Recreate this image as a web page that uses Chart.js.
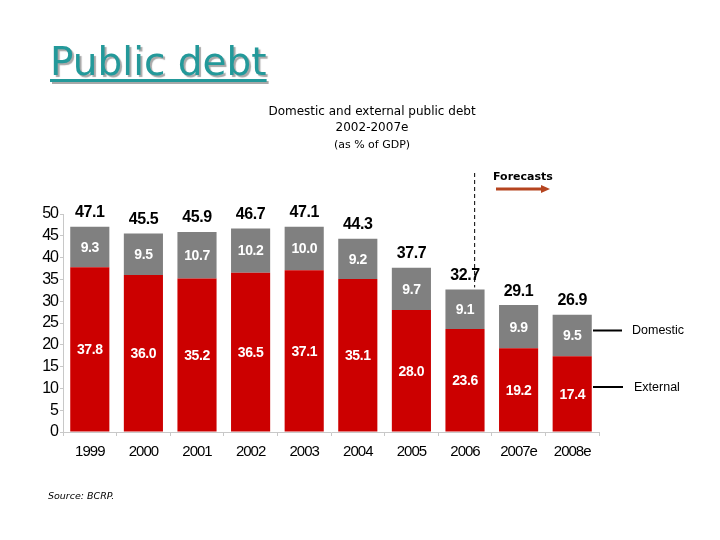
<!DOCTYPE html>
<html>
<head>
<meta charset="utf-8">
<script src="https://cdn.jsdelivr.net/npm/chart.js@4/dist/chart.umd.min.js"></script>
<style>
  html, body { margin:0; padding:0; background:#fff; }
  #wrap { position:relative; width:720px; height:540px; overflow:hidden; }
  #heading { position:absolute; left:50px; top:42px; font-family:"DejaVu Sans", sans-serif; font-size:39px; line-height:39px;
    color:#23999a; text-decoration:underline; text-decoration-thickness:3px; text-underline-offset:4px;
    text-shadow:2px 2px 1px #a8a8a8; white-space:nowrap; }
  canvas { position:absolute; left:0; top:0; }
</style>
</head>
<body>
<div id="wrap">
  <canvas id="c" width="720" height="540"></canvas>
  <div id="heading">Public debt</div>
</div>
<script>
const categories = ["1999","2000","2001","2002","2003","2004","2005","2006","2007e","2008e"];
const external = [37.8, 36.0, 35.2, 36.5, 37.1, 35.1, 28.0, 23.6, 19.2, 17.4];
const domestic = [9.3, 9.5, 10.7, 10.2, 10.0, 9.2, 9.7, 9.1, 9.9, 9.5];
const totals = [47.1, 45.5, 45.9, 46.7, 47.1, 44.3, 37.7, 32.7, 29.1, 26.9];
const yTicks = [0, 5, 10, 15, 20, 25, 30, 35, 40, 45, 50];
const titleLines = ["Domestic and external public debt", "2002-2007e", "(as % of GDP)"];
const seriesNames = ["External", "Domestic"];
const forecastLabel = "Forecasts";
const sourceText = "Source: BCRP.";

const RED = "#cc0000", GREY = "#808080";

const decor = {
  id: "decor",
  beforeDraw(chart) {
    chart.ctx.letterSpacing = "-1px";
  },
  afterDatasetsDraw(chart) {
    const ctx = chart.ctx;
    const mExt = chart.getDatasetMeta(0), mDom = chart.getDatasetMeta(1);
    ctx.save();
    ctx.textAlign = "center"; ctx.textBaseline = "middle";
    ctx.letterSpacing = "-0.4px";
    ctx.fillStyle = "#fff";
    ctx.font = "bold 14px 'Liberation Sans', Arial, sans-serif";
    mExt.data.forEach((b, i) => {
      ctx.fillText(external[i].toFixed(1), b.x, (b.y + b.base) / 2 + 1);
    });
    mDom.data.forEach((b, i) => {
      ctx.fillText(domestic[i].toFixed(1), b.x, (b.y + b.base) / 2 + 1);
    });
    ctx.fillStyle = "#000";
    ctx.font = "bold 16px 'Liberation Sans', Arial, sans-serif";
    mDom.data.forEach((b, i) => {
      ctx.fillText(totals[i].toFixed(1), b.x, chart.scales.y.getPixelForValue(totals[i]) - 14);
    });
    ctx.restore();
  },
  afterDraw(chart) {
    const ctx = chart.ctx;
    const x = chart.scales.x, y = chart.scales.y;
    ctx.save();
    ctx.letterSpacing = "0px";
    ctx.textAlign = "center"; ctx.textBaseline = "middle";
    ctx.fillStyle = "#000";
    ctx.font = "12px 'DejaVu Sans', sans-serif";
    ctx.fillText(titleLines[0], 372, 112);
    ctx.fillText(titleLines[1], 372, 128);
    ctx.font = "11px 'DejaVu Sans', sans-serif";
    ctx.fillText(titleLines[2], 372, 145);

    // forecast divider
    const step = x.getPixelForValue(1) - x.getPixelForValue(0);
    const dx = x.getPixelForValue(7) + step * 0.18;
    ctx.strokeStyle = "#000"; ctx.lineWidth = 1; ctx.setLineDash([4, 3]);
    ctx.beginPath(); ctx.moveTo(dx, 173); ctx.lineTo(dx, y.getPixelForValue(totals[7]) - 2); ctx.stroke();
    ctx.setLineDash([]);

    ctx.font = "bold 11px 'DejaVu Sans', sans-serif";
    ctx.textAlign = "left";
    ctx.fillText(forecastLabel, 493, 177);
    ctx.strokeStyle = "#b5441f"; ctx.fillStyle = "#b5441f"; ctx.lineWidth = 3;
    ctx.beginPath(); ctx.moveTo(496, 189); ctx.lineTo(543, 189); ctx.stroke();
    ctx.beginPath(); ctx.moveTo(550, 189); ctx.lineTo(541, 185); ctx.lineTo(541, 193); ctx.closePath(); ctx.fill();

    // series labels
    ctx.strokeStyle = "#000"; ctx.lineWidth = 2;
    const yd = y.getPixelForValue(23.3), ye = y.getPixelForValue(10.3);
    ctx.beginPath(); ctx.moveTo(593, yd); ctx.lineTo(622, yd); ctx.moveTo(593, ye); ctx.lineTo(623, ye); ctx.stroke();
    ctx.fillStyle = "#000";
    ctx.font = "12.5px 'Liberation Sans', Arial, sans-serif";
    ctx.fillText(seriesNames[1], 632, yd);
    ctx.fillText(seriesNames[0], 634, ye);

    ctx.font = "italic 9.5px 'DejaVu Sans', sans-serif";
    ctx.fillText(sourceText, 48, 497);
    ctx.restore();
  }
};

new Chart(document.getElementById("c"), {
  type: "bar",
  data: {
    labels: categories,
    datasets: [
      { label: seriesNames[0], data: external, backgroundColor: RED, borderWidth: 0 },
      { label: seriesNames[1], data: domestic, backgroundColor: GREY, borderWidth: 0 }
    ]
  },
  options: {
    responsive: false,
    animation: false,
    events: [],
    layout: { padding: { left: 0, right: 121, top: 214, bottom: 0 } },
    datasets: { bar: { categoryPercentage: 1, barPercentage: 0.73 } },
    plugins: { legend: { display: false }, tooltip: { enabled: false }, title: { display: false } },
    scales: {
      x: {
        stacked: true,
        afterFit: s => { s.height = 108; },
        grid: { drawOnChartArea: false, tickLength: 4, color: "#c8c8c8" },
        border: { display: true, color: "#c8c8c8" },
        ticks: { color: "#000", padding: 7, maxRotation: 0, autoSkip: false, font: { family: "'Liberation Sans', Arial, sans-serif", size: 15 } }
      },
      y: {
        stacked: true,
        min: 0, max: 50,
        afterFit: s => { s.width = 63; },
        afterBuildTicks: s => { s.ticks = yTicks.map(v => ({ value: v })); },
        grid: { drawOnChartArea: false, tickLength: 3, color: "#c8c8c8" },
        border: { display: true, color: "#c8c8c8" },
        ticks: { color: "#000", padding: 2, autoSkip: false, font: { family: "'Liberation Sans', Arial, sans-serif", size: 16, lineHeight: 1 } }
      }
    }
  },
  plugins: [decor]
});
</script>
</body>
</html>
